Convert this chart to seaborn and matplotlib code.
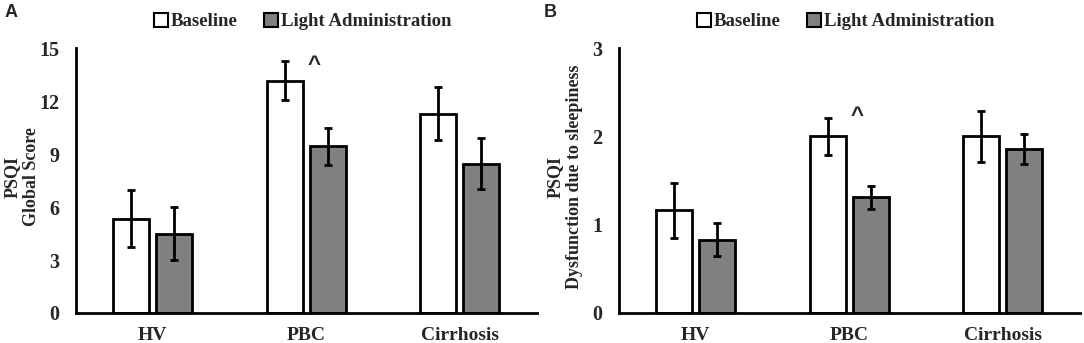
import matplotlib
matplotlib.use("Agg")
import matplotlib.pyplot as plt
import seaborn as sns
import pandas as pd
import numpy as np
from matplotlib.lines import Line2D

# Werte
groups = ["HV", "PBC", "Cirrhosis"]
conditions = ["Baseline", "Light Administration"]

global_baseline = [5.35, 13.15, 11.3]
global_light = [4.5, 9.45, 8.45]
global_baseline_err = [1.6, 1.1, 1.5]
global_light_err = [1.5, 1.05, 1.45]

sleepy_baseline = [1.165, 2.0, 2.0]
sleepy_light = [0.83, 1.31, 1.86]
sleepy_baseline_err = [0.31, 0.21, 0.29]
sleepy_light_err = [0.19, 0.13, 0.17]

colors = {"Baseline": "white", "Light Administration": "#808080"}

sns.set_style("white")
plt.rcParams["font.family"] = ["Liberation Serif", "DejaVu Serif"]
plt.rcParams["font.weight"] = "bold"


def draw_panel(ax, base, light, base_err, light_err, yticks, ylabel, caret_y):
    df = pd.DataFrame({
        "group": groups * 2,
        "cond": [conditions[0]] * 3 + [conditions[1]] * 3,
        "value": base + light,
    })
    sns.barplot(data=df, x="group", y="value", hue="cond", order=groups,
                hue_order=conditions, palette=colors, width=0.56, gap=0.16,
                edgecolor="black", linewidth=2, errorbar=None, legend=False, ax=ax)

    # Fehlerbalken an den Balkenmitten
    for cont, errs in zip(ax.containers, [base_err, light_err]):
        xs = [p.get_x() + p.get_width() / 2 for p in cont.patches]
        ys = [p.get_height() for p in cont.patches]
        ax.errorbar(xs, ys, yerr=errs, fmt="none", ecolor="black",
                    elinewidth=2, capsize=3, capthick=2)

    ax.set_xlim(-0.5, 2.5)
    ax.set_ylim(0, yticks[-1])
    ax.set_yticks(yticks)
    ax.set_xlabel("")
    ax.set_ylabel(ylabel, fontsize=13, fontweight="bold", linespacing=1.2)
    ax.yaxis.set_label_coords(-0.078, 0.515)
    ax.tick_params(axis="both", length=0)
    ax.tick_params(axis="y", pad=12, labelsize=14.5)
    ax.tick_params(axis="x", pad=10, labelsize=14)
    for lab in ax.get_xticklabels() + ax.get_yticklabels():
        lab.set_fontweight("bold")
    sns.despine(ax=ax)
    for s in ["left", "bottom"]:
        ax.spines[s].set_linewidth(2)
        ax.spines[s].set_color("black")

    ax.text(1.05, caret_y, "^", ha="center", va="center", fontsize=16,
            fontweight="bold", family=["Liberation Sans"])

    handles = [Line2D([], [], marker="s", linestyle="none", markersize=10,
                      markerfacecolor=colors[c], markeredgecolor="black",
                      markeredgewidth=1.5) for c in conditions]
    ax.legend(handles, conditions, loc="center", bbox_to_anchor=(0.49, 1.10),
              ncol=2, frameon=False, fontsize=13.5, handletextpad=0.0,
              columnspacing=1.3, handlelength=1.0)


fig = plt.figure(figsize=(10.84, 3.43), dpi=100)
ax1 = fig.add_axes([0.070, 0.0875, 0.425, 0.772])
ax2 = fig.add_axes([0.571, 0.0875, 0.425, 0.772])

draw_panel(ax1, global_baseline, global_light, global_baseline_err, global_light_err,
           [0, 3, 6, 9, 12, 15], "PSQI\nGlobal Score", 14.0)
draw_panel(ax2, sleepy_baseline, sleepy_light, sleepy_baseline_err, sleepy_light_err,
           [0, 1, 2, 3], "PSQI\nDysfunction due to sleepiness", 2.23)

fig.text(0.004, 0.965, "A", fontsize=13, fontweight="bold", family=["Liberation Sans"],
         va="center", ha="left")
fig.text(0.502, 0.965, "B", fontsize=13, fontweight="bold", family=["Liberation Sans"],
         va="center", ha="left")

fig.savefig("out.png", dpi=100)
